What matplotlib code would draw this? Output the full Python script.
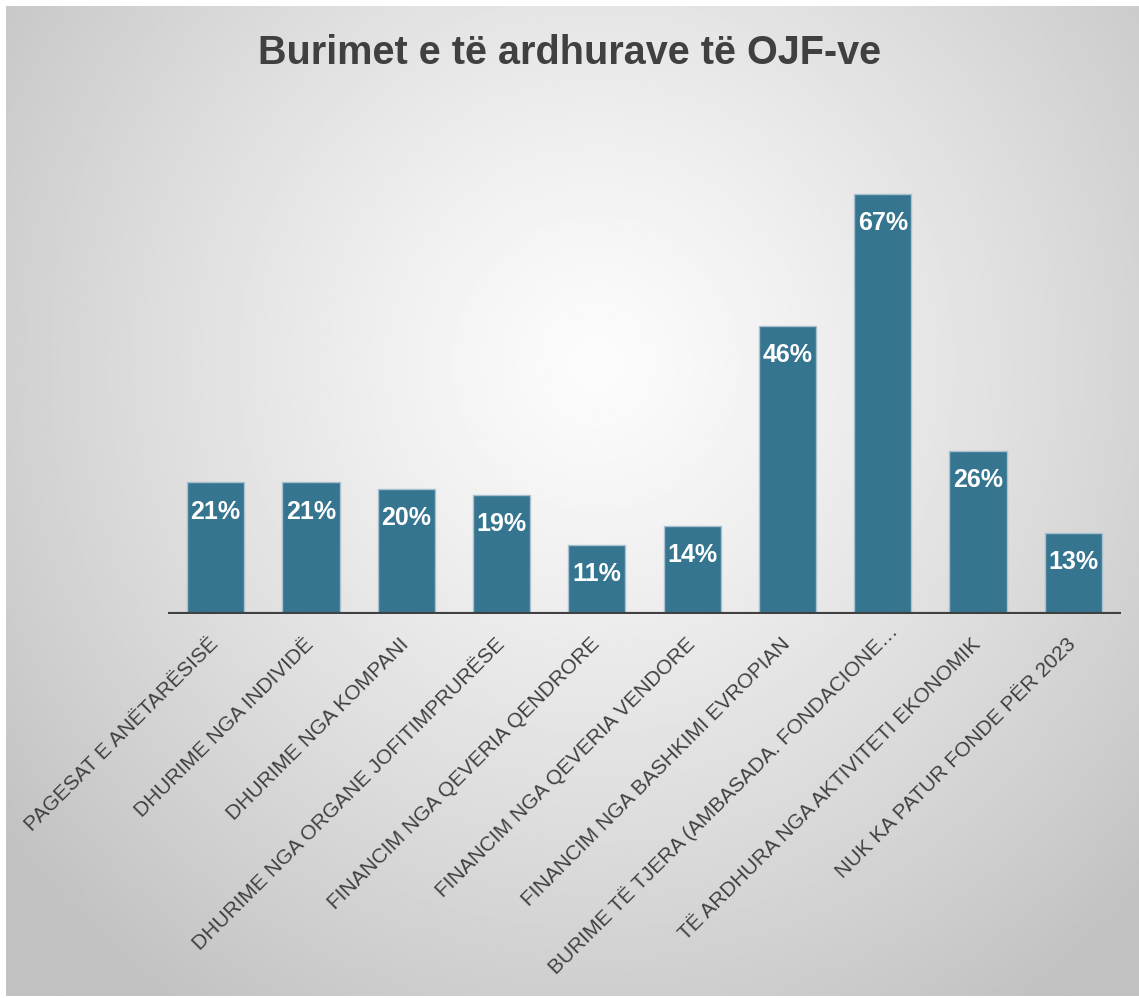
import matplotlib.pyplot as plt
import matplotlib.transforms as mtransforms
import numpy as np

# data
categories = [
    "PAGESAT E ANËTARËSISË",
    "DHURIME NGA INDIVIDË",
    "DHURIME NGA KOMPANI",
    "DHURIME NGA ORGANE JOFITIMPRURËSE",
    "FINANCIM NGA QEVERIA QENDRORE",
    "FINANCIM NGA QEVERIA VENDORE",
    "FINANCIM NGA BASHKIMI EVROPIAN",
    "BURIME TË TJERA (AMBASADA. FONDACIONE…",
    "TË ARDHURA NGA AKTIVITETI EKONOMIK",
    "NUK KA PATUR FONDE PËR 2023",
]
values = [21, 21, 20, 19, 11, 14, 46, 67, 26, 13]
title = "Burimet e të ardhurave të OJF-ve"

plt.rcParams['font.family'] = ['Liberation Sans', 'DejaVu Sans']

W, H = 1139, 998
fig = plt.figure(figsize=(W / 100, H / 100), dpi=100)
fig.patch.set_facecolor('white')

# radial gradient panel behind the chart
bg = fig.add_axes([6 / W, 2 / H, 1 - 6 / W, 990 / H])
ny, nx = 400, 460
yy, xx = np.mgrid[0:ny, 0:nx]
cx, cy = 0.52 * nx, 0.36 * ny
d = np.sqrt(((xx - cx) / (0.66 * nx)) ** 2 + ((yy - cy) / (0.78 * ny)) ** 2)
d = np.clip(d, 0, 1)
shade = (252 - 58 * d ** 1.2) / 255.0
bg.imshow(shade, cmap='gray', vmin=0, vmax=1, aspect='auto',
          extent=[0, 1, 0, 1], origin='upper', interpolation='bilinear')
bg.set_xlim(0, 1)
bg.set_ylim(0, 1)
bg.axis('off')

ax = fig.add_axes([168 / W, 384 / H, (1121 - 168) / W, 464 / H])
ax.patch.set_alpha(0)
x = np.arange(len(categories))
bars = ax.bar(x, values, width=0.6, color='#357590', edgecolor='#a8c0cf',
              linewidth=1, zorder=2)
ax.set_xlim(-0.5, len(categories) - 0.5)
ax.set_ylim(0, 67 * 464 / 420)
ax.axhline(0, color='#404040', lw=3, zorder=3)

for xi, v in zip(x, values):
    ax.annotate(f"{v}%", (xi, v), xytext=(0, -21), textcoords='offset points',
                ha='center', va='center', color='white', fontsize=18,
                fontweight='bold', zorder=4)

ax.set_xticks(x)
ax.set_xticklabels(categories, rotation=45, ha='right', va='center',
                   rotation_mode='anchor', fontsize=15, color='#404040')
ax.tick_params(axis='x', length=0, pad=19.5)
ax.set_yticks([])
for s in ax.spines.values():
    s.set_visible(False)

# the truncated label sits a little further along its line in the original
lab = ax.get_xticklabels()[7]
lab.set_transform(lab.get_transform() +
                  mtransforms.ScaledTranslation(0.12, 0.13, fig.dpi_scale_trans))

fig.text(0.5, 1 - 53 / H, title, ha='center', va='center', fontsize=28.5,
         fontweight='bold', color='#404040')

fig.savefig('out.png', dpi=100)
